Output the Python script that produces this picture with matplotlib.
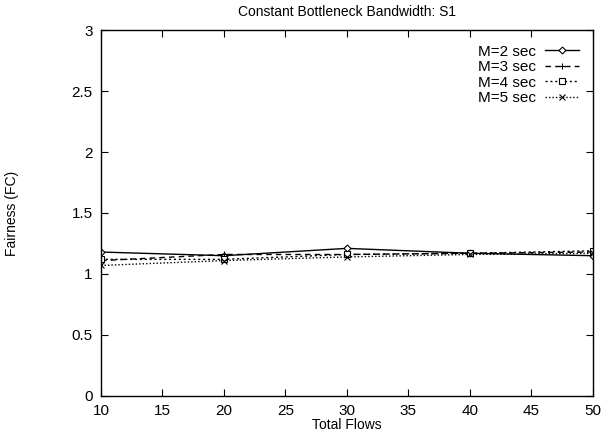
import matplotlib
matplotlib.use("Agg")
import matplotlib.pyplot as plt

plt.rcParams['font.family'] = ['Liberation Sans', 'DejaVu Sans']

flows = [10, 20, 30, 40, 50]
m2 = [1.18, 1.15, 1.21, 1.17, 1.15]
m3 = [1.11, 1.16, 1.16, 1.17, 1.18]
m4 = [1.12, 1.12, 1.16, 1.17, 1.19]
m5 = [1.07, 1.11, 1.14, 1.16, 1.17]
labels = ["M=2 sec", "M=3 sec", "M=4 sec", "M=5 sec"]

fig = plt.figure(figsize=(6.03, 4.38), dpi=100)
ax = fig.add_axes([0.1675, 0.0959, 0.8155, 0.8356])

ax.plot(flows, m2, color='black', lw=1.0, ls='-', marker='D', ms=3.5, mfc='white', mew=0.8, label=labels[0])
ax.plot(flows, m3, color='black', lw=1.0, ls=(0, (4, 3)), marker='+', ms=5, mew=0.8, label=labels[1])
ax.plot(flows, m4, color='black', lw=1.0, ls=(0, (1.5, 2)), marker='s', ms=4, mfc='white', mew=0.8, label=labels[2])
ax.plot(flows, m5, color='black', lw=1.0, ls=(0, (1, 1.5)), marker='x', ms=4, mew=0.8, label=labels[3])

ax.set_xlim(10, 50)
ax.set_ylim(0, 3)
ax.set_xticks(range(10, 51, 5))
ax.set_yticks([0, 0.5, 1, 1.5, 2, 2.5, 3])
ax.set_yticklabels(['0', '0.5', '1', '1.5', '2', '2.5', '3'])
ax.tick_params(direction='in', top=True, right=True, length=5, width=0.8, labelsize=11, pad=6)
for s in ax.spines.values():
    s.set_linewidth(1.0)

ax.set_title("Constant Bottleneck Bandwidth: S1", fontsize=10, pad=10)
ax.set_xlabel("Total Flows", fontsize=10, labelpad=0)
ax.set_ylabel("Fairness (FC)", fontsize=10, labelpad=38)

leg = ax.legend(loc='upper right', frameon=False, markerfirst=False, fontsize=11,
                handlelength=2.2, handletextpad=0.6, labelspacing=0.1,
                bbox_to_anchor=(0.99, 0.985), borderaxespad=0.2)

fig.savefig("out.png", dpi=100)
